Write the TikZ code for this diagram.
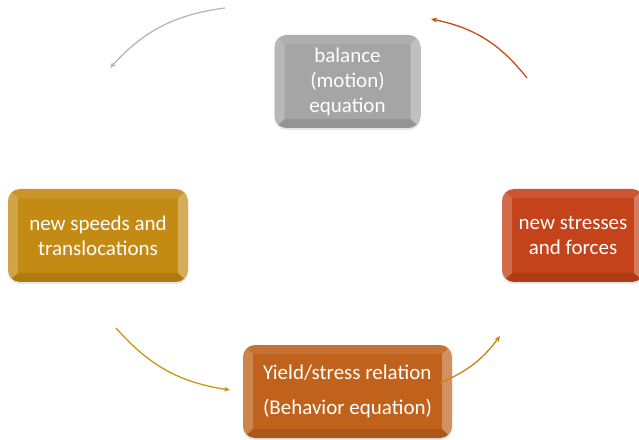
\documentclass[tikz,border=0pt]{standalone}
\usepackage{fontspec}
\setmainfont{Carlito}
\usetikzlibrary{arrows.meta,shadows}

\definecolor{cgray}{HTML}{A5A5A5}
\definecolor{cgold}{HTML}{C38A14}
\definecolor{cred}{HTML}{C4431A}
\definecolor{corange}{HTML}{C0621C}

\tikzset{
  bevelbox/.style={fill=#1, rounded corners=12pt, minimum height=93pt,
    text=white, align=center, font=\fontsize{21}{25}\selectfont,
    drop shadow={opacity=.2, shadow xshift=0pt, shadow yshift=-2pt},
    path picture={
      \fill[sharp corners, white, opacity=.22]
        (path picture bounding box.south west) -- ([shift={(10,9)}]path picture bounding box.south west)
        -- ([shift={(10,-9)}]path picture bounding box.north west) -- (path picture bounding box.north west) -- cycle;
      \fill[sharp corners, white, opacity=.3]
        (path picture bounding box.south east) -- ([shift={(-10,9)}]path picture bounding box.south east)
        -- ([shift={(-10,-9)}]path picture bounding box.north east) -- (path picture bounding box.north east) -- cycle;
      \fill[sharp corners, white, opacity=.1]
        (path picture bounding box.north west) -- ([shift={(10,-9)}]path picture bounding box.north west)
        -- ([shift={(-10,-9)}]path picture bounding box.north east) -- (path picture bounding box.north east) -- cycle;
      \fill[sharp corners, black, opacity=.1]
        (path picture bounding box.south west) -- ([shift={(10,9)}]path picture bounding box.south west)
        -- ([shift={(-10,9)}]path picture bounding box.south east) -- (path picture bounding box.south east) -- cycle;
    }},
  cycarrow/.style={draw=#1, line width=1.3pt, -{Stealth[length=6pt,width=5pt]}}
}

\begin{document}
\begin{tikzpicture}[x=1pt,y=1pt]
\useasboundingbox (0,0) rectangle (639,439);
\node[bevelbox=cgray, minimum width=146pt](b_bal) at (347.5,357.5){balance\\(motion)\\equation};
\node[bevelbox=cgold, minimum width=180pt](b_speed) at (98,203.5){new speeds and\\translocations};
\node[bevelbox=cred, minimum width=142pt](b_stress) at (573,203.5){new stresses\\and forces};
\node[bevelbox=corange, minimum width=209pt, align=left, font=\fontsize{21}{35}\selectfont](b_yield) at (347.5,47.5){Yield/stress relation\\(Behavior equation)};

\coordinate (g_s) at (225,431);
\coordinate (g_e) at (110,371);
\coordinate (r_s) at (527,361);
\coordinate (r_e) at (431,420);
\coordinate (y_s) at (116,111);
\coordinate (y_e) at (230,49);
\coordinate (o_s) at (440,56);
\coordinate (o_e) at (500,103);

\path (g_s) edge[cycarrow=cgray!80, bend right=20] (g_e)
      (r_s) edge[cycarrow=cred!90!orange, bend right=20] (r_e)
      (y_s) edge[cycarrow=cgold!90!yellow, bend right=20] (y_e)
      (o_s) edge[cycarrow=corange!80!yellow, bend right=15] (o_e);
\end{tikzpicture}
\end{document}
